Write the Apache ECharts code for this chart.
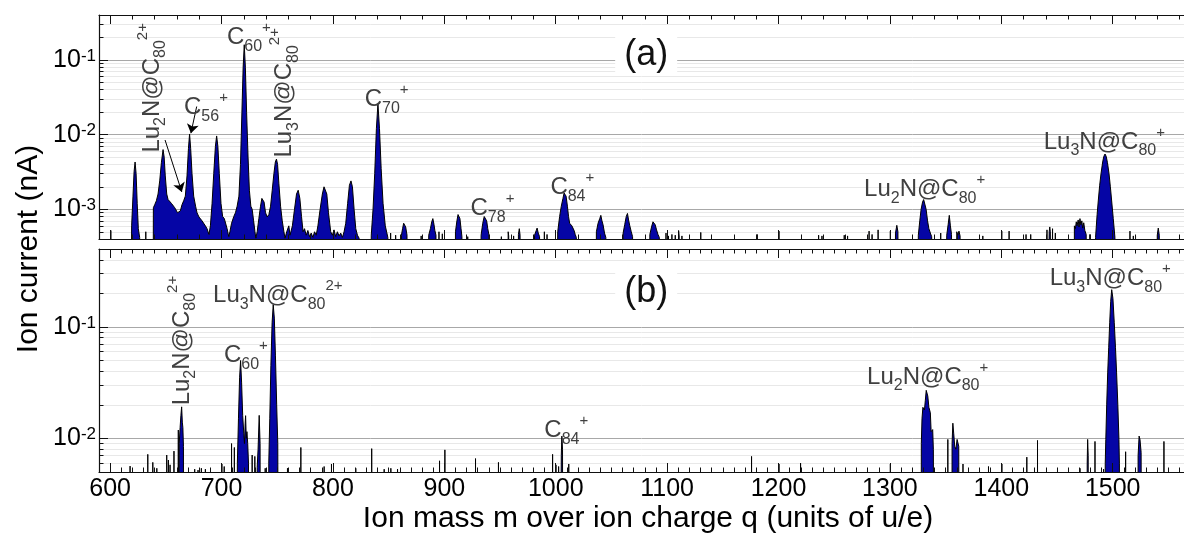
<!DOCTYPE html>
<html><head><meta charset="utf-8">
<script src="https://cdn.jsdelivr.net/npm/echarts@6/dist/echarts.min.js"></script>
<style>html,body{margin:0;padding:0;background:#fff}#c{width:1184px;height:533px}</style>
</head><body><div id="c"></div>
<script>
const FONT = 'Liberation Sans, Arial, Helvetica, sans-serif';
const F = 1e-5; // below the visible floor (clipped)
const X_MIN = 590, X_MAX = 1564;
const xMajorTicks = [600,700,800,900,1000,1100,1200,1300,1400,1500];
const yMajorA = [0.001, 0.01, 0.1];
const yMajorB = [0.01, 0.1];
const yRangeA = [0.0004, 0.4];
const yRangeB = [0.005, 0.5];

// ---- panel (a): measured profile, m/q vs ion current (nA)
const profileA_low = [
[618.5,F],[619.3,6e-4],[620.5,1.5e-3],[621.5,3.2e-3],[622.4,4.3e-3],[623.3,3e-3],[624.3,1.2e-3],[625.3,5.5e-4],[626.5,4.2e-4],[626.8,F],
[638.6,F],[638.8,1.05e-3],[640,1.15e-3],[641.5,1.3e-3],[643,1.6e-3],[644.5,2.4e-3],[646,4.2e-3],[647.5,6.3e-3],[648.5,5e-3],[649.5,2.8e-3],[650.8,1.6e-3],[652,1.35e-3],[653.5,1.3e-3],[655,1.2e-3],[656.5,1.15e-3],[658,1.05e-3],[659.5,1e-3],[660.5,9e-4],[661.8,8.6e-4],[663,9.5e-4],[664.5,1.15e-3],[666,1.3e-3],[667.5,1.5e-3],[669,2.8e-3],[670.3,6.5e-3],[671.3,1.02e-2],[672.3,6.5e-3],[673.5,3e-3],[675,1.5e-3],[676.7,1.1e-3],[678,9e-4],[679.7,7.9e-4],[681,8.2e-4],[682.5,7e-4],[684,7.4e-4],[685.5,6e-4],[687,5.5e-4],[688.7,4.6e-4],[690,6e-4],[691.5,1.2e-3],[693,3e-3],[694.5,7e-3],[695.6,9.6e-3],[696.7,7e-3],[698,3e-3],[699.5,1.2e-3],[701,8e-4],[702.5,7.5e-4],[703.6,7.1e-4],[705,5.5e-4],[706.5,4.3e-4],[707.5,5e-4],[709,6.5e-4],[711,8e-4],[712.5,9e-4],[714,1.1e-3],[715.6,1.5e-3],[717,4e-3],[718.3,2e-2],[719.4,8e-2],[720.4,0.16],[721.4,8e-2],[722.5,2e-2],[723.8,5e-3],[725,1.8e-3],[726.3,1.1e-3],[727.5,1e-3],[728.8,7e-4],[730,5e-4],[730.8,4.1e-4],[732,5e-4],[733.5,7.5e-4],[735,1.1e-3],[736.2,1.4e-3],[737.1,1.45e-3],[738.2,1.25e-3],[739.5,9e-4],[741,7.9e-4],[742.5,8.5e-4],[744,1.1e-3],[745.5,1.8e-3],[747,3e-3],[748.3,4.3e-3],[749.3,4.7e-3],[750.3,4e-3],[751.5,2.2e-3],[753,1.1e-3],[754.5,7e-4],[756,5e-4],[757,4.1e-4],[758.5,5e-4],[760.4,6e-4],[761.5,4.5e-4],[763.6,6e-4],[765.5,1e-3],[767.3,1.6e-3],[768.8,1.8e-3],[770.3,1.4e-3],[771.8,8e-4],[773.2,5e-4],[774.5,5.5e-4],[776,4.5e-4],[777.5,5.2e-4],[779,4.3e-4],[780.5,4.8e-4],[782,4.2e-4],[783.5,5e-4],[785,4.5e-4],[786.5,6e-4],[788.5,1e-3],[790.5,1.6e-3],[792,2e-3],[793.2,2.05e-3],[794.5,1.6e-3],[796,9e-4],[798,5e-4],[799.5,4.5e-4],[801,5.3e-4],[802.5,4.3e-4],[804,5e-4],[805.5,4.4e-4],[807,4.8e-4],[808.5,4.2e-4],[810,5e-4],[811.5,6.5e-4],[813.2,1.2e-3],[814.8,2.1e-3],[816.2,2.4e-3],[817.5,2e-3],[819,1e-3],[820.5,5.5e-4],[822,4.5e-4],[823.5,4.1e-4],[823.8,F]
];
const profileA_mid = [
[833.5,F],[834.4,4.5e-4],[836,1e-3],[837.5,3e-3],[839,1.2e-2],[840.4,2.6e-2],[841.8,1.2e-2],[843.3,3.5e-3],[845,1.2e-3],[847,6e-4],[849.3,4.2e-4],[849.6,F],
[861,F],[861.5,4.5e-4],[862.5,5.5e-4],[863.5,6.5e-4],[864.3,6.8e-4],[865.3,5.8e-4],[866.5,4.5e-4],[866.8,F],
[885.5,F],[886,4.5e-4],[887.5,5.5e-4],[888.7,6.8e-4],[889.7,7.5e-4],[890.7,6.3e-4],[891.5,5.2e-4],[892.5,4.5e-4],[892.8,F],
[909.5,F],[910,5e-4],[911.3,7e-4],[912.3,8.5e-4],[913,8.8e-4],[914,7.5e-4],[915,5.5e-4],[915.8,4.3e-4],[916.1,F],
[932.5,F],[933,4.5e-4],[934.5,6.5e-4],[935.8,8e-4],[936.9,8.3e-4],[938,7e-4],[939,5.5e-4],[940,4.6e-4],[940.4,F],
[957,F],[957.3,5e-4],[957.8,4.4e-4],[958.2,F],
[966,F],[966.5,4.6e-4],[967.3,5.5e-4],[968,4.5e-4],[968.4,F],
[980.3,F],[981,4.5e-4],[982.5,5.2e-4],[983.3,5.6e-4],[984.3,4.8e-4],[985.5,4.3e-4],[985.8,F],
[1001,F],[1001.8,5e-4],[1003.5,8e-4],[1005,1.1e-3],[1006.5,1.4e-3],[1007.5,1.65e-3],[1008.3,1.7e-3],[1009.3,1.5e-3],[1010.5,1.1e-3],[1011.5,8e-4],[1012.5,6.5e-4],[1013.5,6.8e-4],[1014.5,6e-4],[1015.5,6.2e-4],[1016.5,5.2e-4],[1017.5,4.6e-4],[1018.5,4.2e-4],[1018.8,F],
[1036,F],[1036.5,5e-4],[1038,6.5e-4],[1039.5,7.5e-4],[1040.5,8.3e-4],[1041.5,7e-4],[1042.5,6.2e-4],[1043.8,4.8e-4],[1045,4.2e-4],[1045.3,F],
[1060,F],[1060.5,4.8e-4],[1062,6.3e-4],[1063.3,8e-4],[1064.4,8.8e-4],[1065.4,7.2e-4],[1066.5,6e-4],[1067.8,5e-4],[1069,4.3e-4],[1069.3,F],
[1084,F],[1084.5,4.6e-4],[1086,5.8e-4],[1087.3,6.8e-4],[1088.3,7.1e-4],[1089.3,6.2e-4],[1090.5,5.3e-4],[1091.8,4.6e-4],[1093,4.2e-4],[1093.3,F],
[1109.8,F],[1110.3,5.2e-4],[1110.8,4.4e-4],[1111.2,F]
];
const profileA_high = [
[1304.5,F],[1305,4.8e-4],[1306.2,6.1e-4],[1307.2,5e-4],[1307.8,F],
[1325,F],[1325.5,4.5e-4],[1326.8,7e-4],[1328,1e-3],[1329.3,1.25e-3],[1330.3,1.35e-3],[1331.3,1.28e-3],[1332.5,1e-3],[1333.8,7e-4],[1335,5.5e-4],[1336.3,4.8e-4],[1337.5,4.3e-4],[1338.5,4.5e-4],[1338.8,F],
[1350.5,F],[1351,4.5e-4],[1352.3,6.3e-4],[1353.3,8.3e-4],[1354.3,6e-4],[1355.3,4.6e-4],[1355.8,F],
[1359.8,F],[1360,5e-4],[1361,4.5e-4],[1362,5.1e-4],[1363,4.4e-4],[1363.5,F],
[1442.5,F],[1443,5e-4],[1443.5,5.8e-4],[1444,5e-4],[1444.5,F],
[1465.4,F],[1465.6,6e-4],[1466.5,5.5e-4],[1467.3,6.8e-4],[1468,6e-4],[1469,7.2e-4],[1469.8,5.8e-4],[1470.6,7.5e-4],[1471.4,6.2e-4],[1472.3,7e-4],[1473,5.6e-4],[1474,6.6e-4],[1475,5.2e-4],[1476.2,4.6e-4],[1476.6,F],
[1484.3,F],[1484.6,4.2e-4],[1486,8.5e-4],[1487.1,1.33e-3],[1488.3,2.1e-3],[1489.5,3e-3],[1491,4.3e-3],[1492,5.1e-3],[1493.1,5.5e-3],[1494.2,5.1e-3],[1495.3,4.2e-3],[1496.7,3e-3],[1497.9,2e-3],[1499,1.33e-3],[1500.5,7.5e-4],[1502,4.2e-4],[1502.3,F],
[1539.5,F],[1540,4.5e-4],[1540.9,5.6e-4],[1541.8,4.5e-4],[1542.3,F]
];
// single-channel spikes (m/q, current)
const sticksA = [
[600.6,5.2e-4],[632,5e-4],[851.8,4.8e-4],[856.3,4.5e-4],[879.2,4.4e-4],[895.2,5e-4],[898.2,4.7e-4],[921,4.3e-4],[951.2,4.3e-4],[962.2,4.4e-4],[989.8,5e-4],[992.2,4.6e-4],[1099,4.8e-4],[1101.2,4.4e-4],[1104.3,4.6e-4],[1107.3,4.5e-4],[1113.3,4.4e-4],[1130.2,4.9e-4],[1180.9,4.6e-4],[1200.4,5.1e-4],[1236,4.5e-4],[1239,4.4e-4],[1259,4.5e-4],[1262,4.4e-4],[1281.3,5.1e-4],[1284,4.6e-4],[1289.4,5.3e-4],[1300.4,5.1e-4],[1345.6,4.8e-4],[1383.4,4.4e-4],[1400.4,5.1e-4],[1407,5.1e-4],[1422.2,4.6e-4],[1426.4,4.6e-4],[1441,5.3e-4],[1446,5.5e-4],[1448.5,4.8e-4],[1479.5,4.6e-4],[1515.5,5.1e-4],[1518.5,4.4e-4],[1520.5,4.4e-4]
];

// ---- panel (b)
const profileB = [
[661.7,F],[662,9e-3],[662.8,1.25e-2],[663.5,1.6e-2],[664.2,1.92e-2],[664.8,1.4e-2],[665.3,1.25e-2],[665.8,8.5e-3],[666.1,F],
[713.8,F],[714.2,6e-3],[715.2,1.5e-2],[716.2,3.5e-2],[717.1,5e-2],[718,3.2e-2],[719,1.6e-2],[720,1.1e-2],[720.6,9e-3],[721.2,1.35e-2],[721.6,1.6e-2],[722.2,1e-2],[722.8,1.15e-2],[723.5,9e-3],[724.2,6e-3],[724.9,F],
[731.6,F],[732,5.5e-3],[732.8,8e-3],[733.8,1.61e-2],[734.6,9e-3],[735.3,F],
[742,F],[742.4,6e-3],[743.3,1.5e-2],[744.3,4.5e-2],[745.4,0.11],[746.4,0.158],[747.4,0.12],[748.4,5.5e-2],[749.5,2e-2],[750.5,9e-3],[751.3,F],
[1004.6,F],[1005,7e-3],[1005.5,1.05e-2],[1006.1,8e-3],[1006.7,F],
[1327.8,F],[1328.2,9e-3],[1328.8,1.5e-2],[1329.6,1.9e-2],[1330.3,1.95e-2],[1331,1.8e-2],[1331.8,2.2e-2],[1332.6,2.7e-2],[1333.3,2.7e-2],[1334,2.4e-2],[1335,1.9e-2],[1336.3,1.7e-2],[1337,1.15e-2],[1337.6,1.15e-2],[1338.4,1.2e-2],[1339,8e-3],[1339.6,F],
[1355.4,F],[1355.8,9e-3],[1356.5,1.37e-2],[1357.3,1.1e-2],[1358.2,8.5e-3],[1359.2,8e-3],[1360.3,9.8e-3],[1361,1e-2],[1361.8,8.5e-3],[1362.8,F],
[1476.8,F],[1477.1,6e-3],[1477.5,9.8e-3],[1478,7e-3],[1478.4,F],
[1493,F],[1493.3,6e-3],[1493.8,9.8e-3],[1494.6,2e-2],[1495.5,3.87e-2],[1496.4,6.5e-2],[1497.3,0.109],[1498.2,0.17],[1499.1,0.216],[1500.2,0.18],[1501.4,0.109],[1502.5,6.5e-2],[1503.5,3.87e-2],[1504.6,2e-2],[1505.6,9.8e-3],[1506,6e-3],[1506.3,F],
[1522.3,F],[1522.8,7e-3],[1523.7,1.05e-2],[1524.5,9.8e-3],[1525.5,7.5e-3],[1526.4,F]
];
const sticksB = [
[617.9,5.65e-3],[633.8,7.2e-3],[638.3,6.1e-3],[641.9,5.4e-3],[650.8,7.1e-3],[652.3,6.4e-3],[653.8,5.8e-3],[657.3,7.7e-3],[661.2,1.19e-2],[675.9,5.3e-3],[678.9,5.2e-3],[681.9,5.4e-3],[685.5,5.3e-3],[700.3,5.9e-3],[702.4,5.6e-3],[709,9e-3],[711.5,8.3e-3],[727.5,7.1e-3],[729.9,6.9e-3],[739.2,5.4e-3],[759.2,5.4e-3],[771.2,8.3e-3],[792.1,5.6e-3],[798.7,5.9e-3],[820.5,5.4e-3],[834.8,8.1e-3],[846,5.3e-3],[852,5.4e-3],[858,5.3e-3],[895.7,6.3e-3],[900.5,7.9e-3],[928,6.6e-3],[948.6,6.1e-3],[997.2,7.2e-3],[1000.2,5.8e-3],[1002.6,5.6e-3],[1011.7,5.9e-3],[1175.8,6.9e-3],[1200.4,5.9e-3],[1219.8,6e-3],[1300.4,5.9e-3],[1352,9.8e-3],[1365.6,5.9e-3],[1388.5,5.6e-3],[1400.5,5.9e-3],[1422.9,6.8e-3],[1432.5,9.6e-3],[1470.6,5.4e-3],[1484.1,9.4e-3],[1491.8,5.3e-3],[1511.6,7.6e-3],[1546,9.4e-3]
];

// ---- annotations (anchor = label centre in data coordinates)
const labelsA = [
  {text:'{m|Lu}{b|2}{m|N@C}{b|80}{p|2+}', m:637.6, v:0.0423, rot:true},
  {text:'{m|C}{b|56}{p|+}', m:686, v:0.0229},
  {text:'{m|C}{b|60}{p|+}', m:724.6, v:0.2},
  {text:'{m|Lu}{b|3}{m|N@C}{b|80}{p|2+}', m:756.8, v:0.0363, rot:true},
  {text:'{m|C}{b|70}{p|+}', m:848.2, v:0.0293},
  {text:'{m|C}{b|78}{p|+}', m:943.2, v:1.035e-3},
  {text:'{m|C}{b|84}{p|+}', m:1014.9, v:1.98e-3},
  {text:'{m|Lu}{b|2}{m|N@C}{b|80}{p|+}', m:1331.2, v:1.86e-3},
  {text:'{m|Lu}{b|3}{m|N@C}{b|80}{p|+}', m:1492.5, v:7.98e-3}
];
const labelsB = [
  {text:'{m|Lu}{b|2}{m|N@C}{b|80}{p|2+}', m:664.5, v:0.0754, rot:true},
  {text:'{m|C}{b|60}{p|+}', m:721.9, v:0.0553},
  {text:'{m|Lu}{b|3}{m|N@C}{b|80}{p|2+}', m:750.5, v:0.193},
  {text:'{m|C}{b|84}{p|+}', m:1009.5, v:0.0118},
  {text:'{m|Lu}{b|2}{m|N@C}{b|80}{p|+}', m:1333.9, v:0.0356},
  {text:'{m|Lu}{b|3}{m|N@C}{b|80}{p|+}', m:1497.8, v:0.27}
];
const panelTags = [{text:'(a)', m:1081.2, v:0.118, grid:0}, {text:'(b)', m:1081.2, v:0.207, grid:1}];
const arrowsA = [[[649.3,8.47e-3],[664.3,1.71e-3]], [[677.7,2.38e-2],[672.5,1.045e-2]]];
const xTitle = 'Ion mass m over ion charge q (units of u/e)';
const yTitle = 'Ion current (nA)';

// ---------- build
function buildData(profiles, sticks) {
  const pts = [];
  profiles.forEach(p => p.forEach(q => pts.push(q)));
  sticks.forEach(s => { pts.push([s[0]-0.25, F], [s[0], s[1]], [s[0]+0.25, F]); });
  pts.sort((a, b) => a[0] - b[0]);
  return [[X_MIN, F]].concat(pts, [[X_MAX, F]]);
}
function stepTicks(step) { const t = []; for (let v = 600; v <= X_MAX; v += step) t.push(v); return t; }
function minorLog(range) {
  const t = [];
  for (let e = -5; e <= 0; e++) for (let k = 2; k <= 9; k++) {
    const v = k * Math.pow(10, e);
    if (v >= range[0] * 0.999 && v <= range[1] * 1.001) t.push(v);
  }
  return t;
}
const dataA = buildData([profileA_low, profileA_mid, profileA_high], sticksA);
const dataB = buildData([profileB], sticksB);

const grids = [
  {left: 99, right: -2, top: 15, height: 224},
  {left: 99, right: -2, top: 249, height: 223}
];
function xAxes(gi, minorStep, labels) {
  const base = {type:'value', gridIndex: gi, min: X_MIN, max: X_MAX, z: 5, splitLine:{show:false}};
  const tickMaj = {show:true, inside:true, length:9, customValues: xMajorTicks, lineStyle:{color:'#111', width:1}};
  const tickMin = {show:true, inside:true, length:4.5, customValues: stepTicks(minorStep), lineStyle:{color:'#111', width:1}};
  return [
    Object.assign({}, base, {position:'bottom', axisLine:{show:true, onZero:false, lineStyle:{color:'#111', width:1.2}}, axisTick: tickMaj,
      axisLabel: labels ? {show:true, customValues: xMajorTicks, formatter: v => String(Math.round(v)), fontSize:25, fontFamily:FONT, color:'#000', margin:5} : {show:false}}),
    Object.assign({}, base, {position:'bottom', axisLine:{show:false}, axisTick: tickMin, axisLabel:{show:false}}),
    Object.assign({}, base, {position:'top', axisLine:{show:true, onZero:false, lineStyle:{color:'#111', width:1.2}}, axisTick: tickMaj, axisLabel:{show:false}}),
    Object.assign({}, base, {position:'top', axisLine:{show:false}, axisTick: tickMin, axisLabel:{show:false}})
  ];
}
function yAxes(gi, range, majors) {
  const base = {type:'log', logBase:10, gridIndex: gi, min: range[0], max: range[1], position:'left'};
  return [
    Object.assign({}, base, {
      axisLine:{show:true, onZero:false, lineStyle:{color:'#111', width:1.2}},
      axisTick:{show:true, inside:true, length:9, customValues: majors, lineStyle:{color:'#111'}},
      splitLine:{show:true, lineStyle:{color:'#a8a8a8', width:1}},
      axisLabel:{show:true, customValues: majors, margin:3, fontSize:25, fontFamily:FONT, color:'#000',
        formatter: v => '10{s|' + Math.round(Math.log10(v)) + '}',
        rich:{s:{fontSize:17, lineHeight:17, verticalAlign:'top', fontFamily:FONT, color:'#000'}}}
    }),
    Object.assign({}, base, {
      axisLine:{show:false},
      axisTick:{show:true, inside:true, length:4.5, customValues: minorLog(range), lineStyle:{color:'#111'}},
      splitLine:{show:true, lineStyle:{color:'#e8e8e8', width:1}},
      axisLabel:{show:false}
    })
  ];
}

const chart = echarts.init(document.getElementById('c'), null, {renderer:'canvas'});
const seriesStyle = {
  type:'line', symbol:'none', showSymbol:false, clip:true, silent:true,
  lineStyle:{color:'#000', width:1},
  areaStyle:{color:'#0505a5', opacity:1, origin:'start'}
};
chart.setOption({
  animation:false,
  backgroundColor:'#fff',
  grid: grids,
  xAxis: xAxes(0, 20, false).concat(xAxes(1, 10, true)),
  yAxis: yAxes(0, yRangeA, yMajorA).concat(yAxes(1, yRangeB, yMajorB)),
  series: [
    Object.assign({}, seriesStyle, {name:'(a)', xAxisIndex:0, yAxisIndex:0, data:dataA,
      markLine:{silent:true, symbol:['none','arrow'], symbolSize:9, animation:false,
        lineStyle:{color:'#000', width:1, type:'solid'}, label:{show:false},
        data: arrowsA.map(a => [{coord:a[0]}, {coord:a[1]}])}}),
    Object.assign({}, seriesStyle, {name:'(b)', xAxisIndex:4, yAxisIndex:2, data:dataB})
  ]
});

const RICH = {
  m:{fontSize:24, lineHeight:34, fontFamily:FONT, fill:'#404040', color:'#404040', verticalAlign:'middle'},
  b:{fontSize:16, lineHeight:16, fontFamily:FONT, fill:'#404040', color:'#404040', verticalAlign:'bottom'},
  p:{fontSize:15, lineHeight:15, fontFamily:FONT, fill:'#404040', color:'#404040', verticalAlign:'top'}
};
const graphics = [];
function addLabels(list, xi, yi) {
  list.forEach(L => {
    const p = chart.convertToPixel({xAxisIndex: xi, yAxisIndex: yi}, [L.m, L.v]);
    graphics.push({type:'text', x:p[0], y:p[1], rotation: L.rot ? Math.PI/2 : 0, z:20, silent:true,
      style:{text:L.text, rich:RICH, fill:'#404040', font:'24px ' + FONT,
        align:'center', verticalAlign:'middle', textAlign:'center', textVerticalAlign:'middle'}});
  });
}
addLabels(labelsA, 0, 0);
addLabels(labelsB, 4, 2);
panelTags.forEach(t => {
  const p = chart.convertToPixel(t.grid === 0 ? {xAxisIndex:0, yAxisIndex:0} : {xAxisIndex:4, yAxisIndex:2}, [t.m, t.v]);
  graphics.push({type:'text', x:p[0], y:p[1], z:15, silent:true,
    style:{text:t.text, fill:'#111', font:'36px ' + FONT, backgroundColor:'#fff', padding:[1,9,1,9],
      align:'center', verticalAlign:'middle', textAlign:'center', textVerticalAlign:'middle'}});
});
graphics.push({type:'text', x:648, y:519, z:20, silent:true,
  style:{text:xTitle, fill:'#000', font:'30px ' + FONT, align:'center', verticalAlign:'middle', textAlign:'center', textVerticalAlign:'middle'}});
graphics.push({type:'text', x:29, y:249, rotation:Math.PI/2, z:20, silent:true,
  style:{text:yTitle, fill:'#000', font:'30px ' + FONT, align:'center', verticalAlign:'middle', textAlign:'center', textVerticalAlign:'middle'}});
chart.setOption({graphic: graphics});
</script>
</body></html>
